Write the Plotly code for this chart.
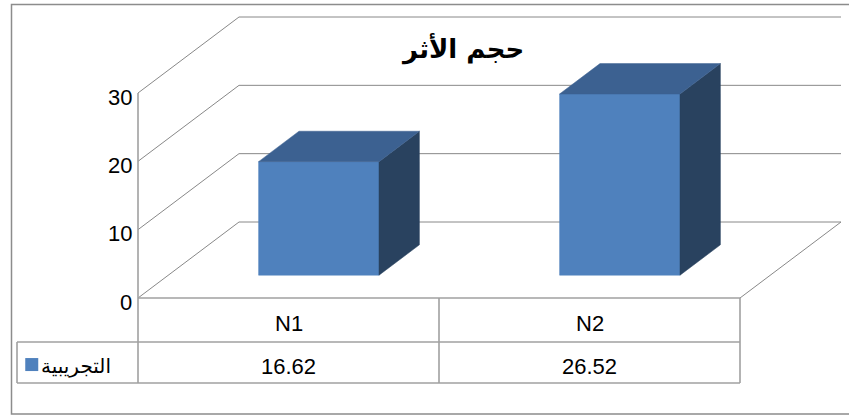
import plotly.graph_objects as go

# ---------------- data ----------------
categories = ["N1", "N2"]
series_name = "التجريبية"
values = [16.62, 26.52]
value_labels = ["16.62", "26.52"]
y_ticks = [0, 10, 20, 30]
chart_title = "حجم الأثر"

# ---------------- layout geometry (pixels) ----------------
W, H = 849, 415
X0_PX = 138          # front-left corner of the floor
CAT_PX = 301         # pixel width of one category
Y0_PX = 298          # front zero line
UNIT_PX = 205 / 30   # pixels per value unit on the front plane
DEPTH_DX = 101 / CAT_PX   # full depth offset (category units)
DEPTH_DY = 76 / UNIT_PX   # full depth offset (value units)
ROW1 = -(342 - Y0_PX) / UNIT_PX   # bottom of category row
ROW2 = -(383 - Y0_PX) / UNIT_PX   # bottom of value row
LEG_LEFT = 0.5 - (X0_PX - 17) / CAT_PX
BAR_HALF = 0.2
D_FRONT, D_BACK = 0.30, 0.70

x_range = [0.5 - X0_PX / CAT_PX, 0.5 + (W - X0_PX) / CAT_PX]
y_range = [(Y0_PX - H) / UNIT_PX, Y0_PX / UNIT_PX]

FRONT = "#4F81BD"
TOP = "#3C6191"
SIDE = "#29425F"
GRID = "#888888"
TABLE = "#A0A0A0"
FONT = "Liberation Sans, Arial, DejaVu Sans, sans-serif"

n = len(categories)
xl, xr = 0.5, n + 0.5
ymax = max(y_ticks)


def proj(c, v, d):
    return c + d * DEPTH_DX, v + d * DEPTH_DY


def poly(points):
    xs, ys = zip(*[proj(*p) for p in points])
    return list(xs), list(ys)


fig = go.Figure()


def line(points, color, width):
    xs, ys = poly(points)
    fig.add_trace(go.Scatter(x=xs, y=ys, mode="lines",
                             line=dict(color=color, width=width),
                             hoverinfo="skip", showlegend=False))


# walls: gridlines on side wall and back wall
for t in y_ticks:
    pts = [(xl, t, 0), (xl, t, 1), (xr, t, 1)]
    if t == 0:
        pts += [(xr, t, 0)]
    line(pts, GRID, 1)

# table lines
line([(xl, 0, 0), (xr, 0, 0)], TABLE, 1.6)
line([(LEG_LEFT, ROW1, 0), (xr, ROW1, 0)], TABLE, 1.6)
line([(LEG_LEFT, ROW2, 0), (xr, ROW2, 0)], TABLE, 1.6)
line([(LEG_LEFT, ROW1, 0), (LEG_LEFT, ROW2, 0)], TABLE, 1.6)
line([(xl, ymax, 0), (xl, ROW2, 0)], TABLE, 1.6)
for i in range(n):
    line([(i + 1.5, 0, 0), (i + 1.5, ROW2, 0)], TABLE, 1.6)

# bars
for i, v in enumerate(values):
    c = i + 1
    a, b = c - BAR_HALF, c + BAR_HALF
    faces = [
        ([(a, 0, D_FRONT), (b, 0, D_FRONT), (b, v, D_FRONT), (a, v, D_FRONT)], FRONT),
        ([(b, 0, D_FRONT), (b, 0, D_BACK), (b, v, D_BACK), (b, v, D_FRONT)], SIDE),
        ([(a, v, D_FRONT), (b, v, D_FRONT), (b, v, D_BACK), (a, v, D_BACK)], TOP),
    ]
    for pts, col in faces:
        xs, ys = poly(pts)
        fig.add_trace(go.Scatter(x=xs + [xs[0]], y=ys + [ys[0]], mode="lines",
                                 fill="toself", fillcolor=col,
                                 line=dict(color=col, width=0.5),
                                 hoverinfo="skip", showlegend=False))

# legend key in table
fig.add_trace(go.Scatter(x=[LEG_LEFT + 0.049], y=[(ROW1 + ROW2) / 2 - 0.3], mode="markers",
                         marker=dict(symbol="square", size=13, color=FRONT),
                         hoverinfo="skip", showlegend=False))

ann = []
for t in y_ticks:
    ann.append(dict(x=xl, y=t, xref="x", yref="y", text=str(t), showarrow=False,
                    xanchor="right", yanchor="middle", xshift=-4, yshift=-4,
                    font=dict(family=FONT, size=22, color="#000000")))
for i, cat in enumerate(categories):
    ann.append(dict(x=i + 1, y=ROW1 / 2, xref="x", yref="y", text=cat, showarrow=False,
                    xanchor="center", yanchor="middle", yshift=-3,
                    font=dict(family=FONT, size=22, color="#000000")))
    ann.append(dict(x=i + 1, y=(ROW1 + ROW2) / 2, xref="x", yref="y", text=value_labels[i],
                    showarrow=False, xanchor="center", yanchor="middle", yshift=-4,
                    font=dict(family=FONT, size=22, color="#000000")))
ann.append(dict(x=xl - 0.092, y=(ROW1 + ROW2) / 2, xref="x", yref="y", text=series_name,
                showarrow=False, xanchor="right", yanchor="middle", xshift=3, yshift=-3,
                font=dict(family="DejaVu Sans, sans-serif", size=20, color="#000000")))
ann.append(dict(x=462 / W, y=1 - 49 / H, xref="paper", yref="paper", text="<b>" + chart_title + "</b>",
                showarrow=False, xanchor="center", yanchor="middle",
                font=dict(family="DejaVu Sans, sans-serif", size=26, color="#000000")))

fig.update_layout(
    width=W, height=H,
    margin=dict(l=0, r=0, t=0, b=0),
    paper_bgcolor="white", plot_bgcolor="white",
    xaxis=dict(range=x_range, visible=False, fixedrange=True),
    yaxis=dict(range=y_range, visible=False, fixedrange=True),
    annotations=ann,
    shapes=[dict(type="rect", xref="paper", yref="paper",
                 x0=11.5 / W, x1=1.01, y0=1 - 414 / H, y1=1 - 4.5 / H,
                 line=dict(color="#8C8C8C", width=1.5))],
    showlegend=False,
)

fig.write_html("out.html", config={"displayModeBar": False},
               post_script="document.body.style.margin='0';document.body.style.overflow='hidden';")
